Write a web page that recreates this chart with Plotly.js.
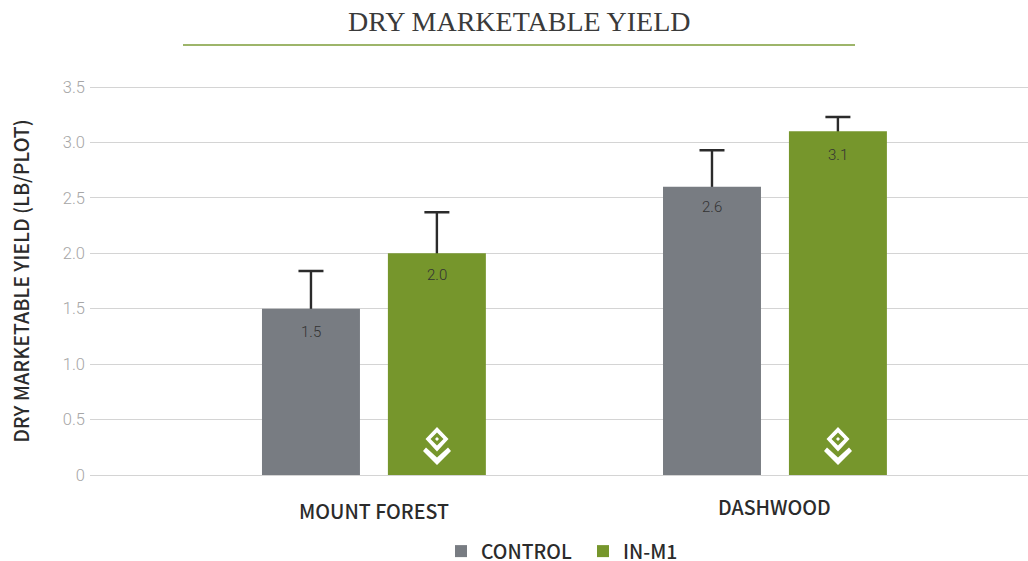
<!DOCTYPE html>
<html><head><meta charset="utf-8">
<script src="https://cdn.plot.ly/plotly-3.0.1.min.js"></script>
<style>html,body{margin:0;padding:0;background:#fff}#c{width:1028px;height:561px}</style></head>
<body><div id="c"></div>
<script>
const categories=["MOUNT FOREST","DASHWOOD"];
const controlValues=[1.5,2.6];
const inm1Values=[2.0,3.1];
const controlErr=[0.34,0.33];
const inm1Err=[0.37,0.13];
const tickVals=[0,0.5,1,1.5,2,2.5,3,3.5];
const tickText=["0","0.5","1.0","1.5","2.0","2.5","3.0","3.5"];
const W=1028,H=561,L=90,T=85,B=84,R=0;
const yRange=[-0.018,3.518];
const px=x=>(x-L)/(W-L-R), py=y=>(H-B-y)/(H-T-B);
const labelFont={family:'"Noto Sans CJK SC","Noto Sans",sans-serif',size:19.6,color:'#2b2b2b',weight:500};
const valueFont={family:'Roboto',size:15,color:'#333',weight:300};
function bar(name,vals,color){return{type:'bar',name,x:categories,y:vals,yaxis:'y2',marker:{color}};}
function whisker(name,vals,err){return{type:'bar',name,x:categories,y:vals,showlegend:false,hoverinfo:'skip',marker:{color:'rgba(0,0,0,0)'},
 error_y:{type:'data',symmetric:false,array:err,arrayminus:[0.05,0.05],thickness:2.4,width:12.5,color:'#2b2b2b'}};}
function valueNotes(vals,shift,drops){return vals.map((v,i)=>({text:v.toFixed(1),xref:'x',yref:'y',x:categories[i],y:v,xshift:shift,yshift:-drops[i],
 showarrow:false,xanchor:'center',yanchor:'middle',font:valueFont}));}
const layout={width:W,height:H,margin:{l:L,r:R,t:T,b:B,autoexpand:false},paper_bgcolor:'#fff',plot_bgcolor:'#fff',
 bargap:0.372,bargroupgap:0.222,barmode:'group',showlegend:true,
 legend:{orientation:'h',xref:'paper',yref:'paper',x:px(441),xanchor:'left',y:py(532),yanchor:'top',font:{...labelFont,size:19.4},itemclick:false,traceorder:'normal',entrywidth:97,entrywidthmode:'pixels'},
 xaxis:{type:'category',categoryorder:'array',categoryarray:categories,range:[-0.708,1.631],showticklabels:false,showgrid:false,ticks:'',zeroline:false,showline:false},
 yaxis:{range:yRange,tickvals:tickVals,ticktext:tickText,showgrid:true,gridcolor:'#d4d4d4',gridwidth:1,zeroline:false,showline:false,
  ticks:'',ticklabelstandoff:4,tickfont:{family:'Roboto',size:16.5,color:'#a6a6a6',weight:300},
  title:{text:'DRY MARKETABLE YIELD (LB/PLOT)',standoff:27,font:{...labelFont}}},
 yaxis2:{overlaying:'y',range:yRange,showgrid:false,zeroline:false,showticklabels:false,ticks:'',showline:false},
 annotations:[
  {text:'DRY MARKETABLE YIELD',xref:'paper',yref:'paper',x:px(519),y:py(22),showarrow:false,xanchor:'center',yanchor:'middle',font:{family:'"Liberation Serif",serif',size:28,color:'#3a3a3a'}},
  {text:categories[0],xref:'x',yref:'paper',x:categories[0],y:py(510),showarrow:false,yanchor:'middle',font:labelFont},
  {text:categories[1],xref:'x',yref:'paper',x:categories[1],y:py(507),showarrow:false,yanchor:'middle',font:labelFont},
  ...valueNotes(controlValues,-63,[23,20]),
  ...valueNotes(inm1Values,63,[22,24])],
 shapes:[
  {type:'line',xref:'paper',yref:'paper',x0:px(183),x1:px(855),y0:py(45),y1:py(45),line:{color:'#9db56a',width:2}}
 ]};
[437,838].forEach(c=>{
 const common={type:'path',xref:'paper',yref:'paper',xsizemode:'pixel',ysizemode:'pixel',xanchor:px(c),yanchor:py(475),fillcolor:'#fff',line:{width:0},layer:'above'};
 layout.shapes.push({...common,fillrule:'evenodd',
  path:'M 0 48 L 11.5 36 L 0 23.5 L -11.5 36 Z M 0 42.5 L -6.5 36 L 0 29.5 L 6.5 36 Z M 0 38 L 2 36 L 0 34 L -2 36 Z'});
 layout.shapes.push({...common,
  path:'M -14 24 L 0 10 L 14 24 L 11 27.5 L 0 17.5 L -11 27.5 Z'});
});
Plotly.newPlot('c',[
 whisker('CONTROL range',controlValues,controlErr),
 whisker('IN-M1 range',inm1Values,inm1Err),
 bar('CONTROL',controlValues,'#787c82'),
 bar('IN-M1',inm1Values,'#76962c')
],layout,{displayModeBar:false,staticPlot:true});
</script></body></html>
